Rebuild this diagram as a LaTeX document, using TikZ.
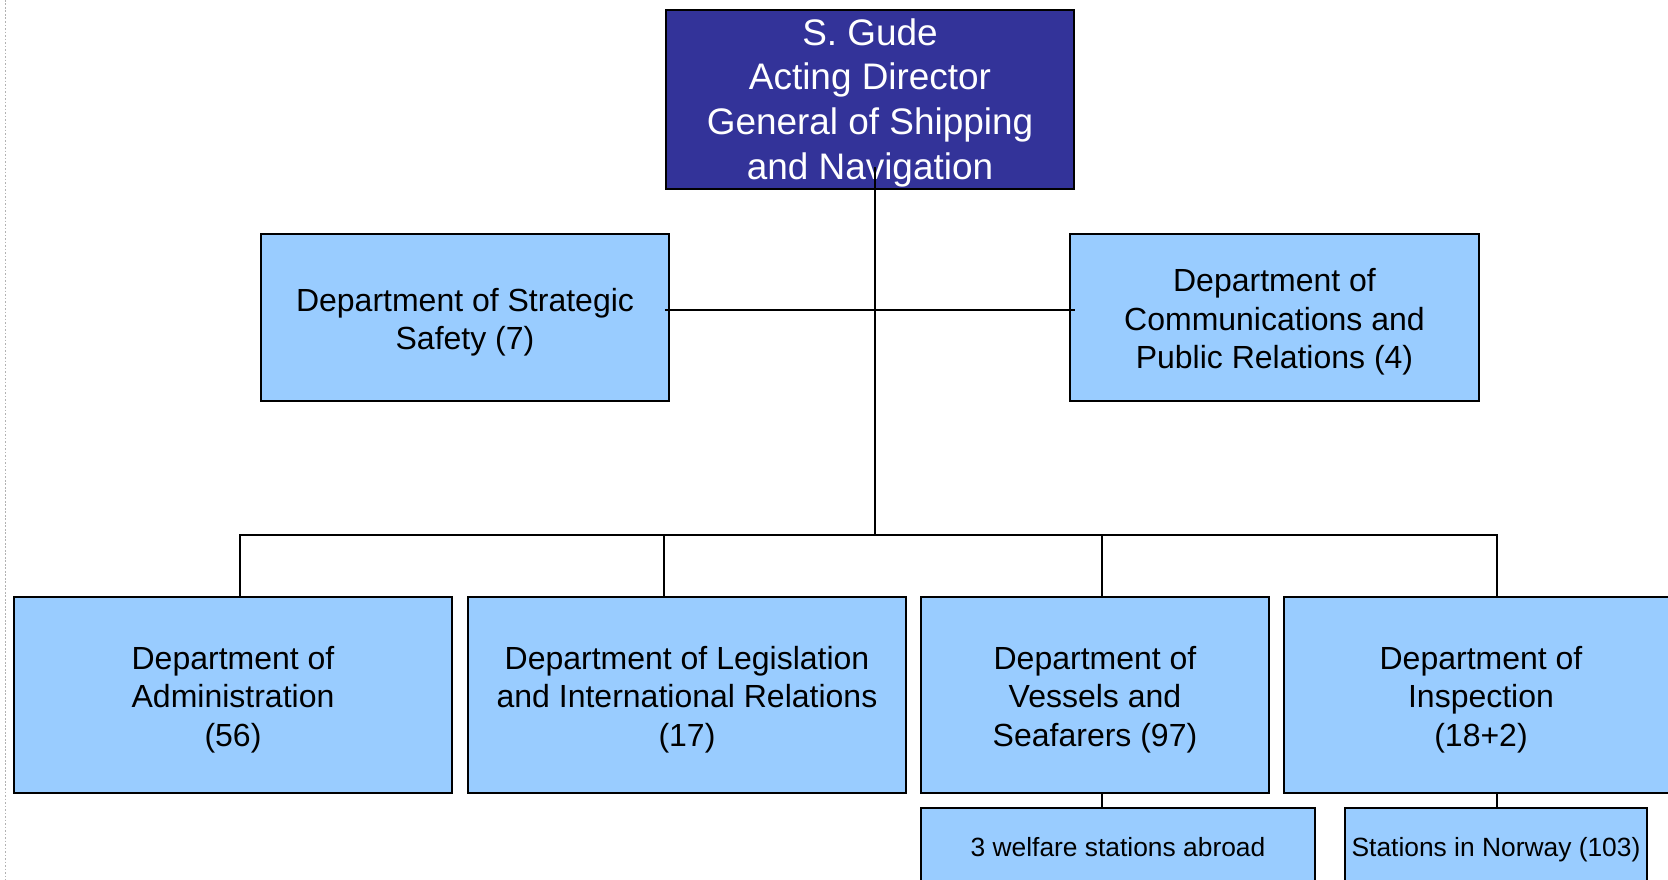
\documentclass[tikz,border=0pt]{standalone}
\usepackage{fontspec}
\setmainfont{Liberation Sans}
\definecolor{headblue}{RGB}{51,51,153}
\definecolor{deptblue}{RGB}{153,204,255}
% taller first line, so the text block sits a little lower in its box
\newcommand{\topstrut}[1][1em]{\rule{0pt}{#1}}
\tikzset{
  box/.style={draw=black, line width=0.02cm, rectangle, inner sep=0pt, align=center},
  boss/.style={box, fill=headblue, text=white, font=\fontsize{10.5}{12.7}\selectfont},
  dept/.style={box, fill=deptblue, font=\fontsize{9.1}{10.9}\selectfont},
  station/.style={box, fill=deptblue, font=\fontsize{7.5}{9}\selectfont, text depth=0pt},
  wire/.style={draw=black, line width=0.02cm}
}
\begin{document}
\begin{tikzpicture}[x=0.01cm, y=-0.01cm]
  \useasboundingbox (0,0) rectangle (1668,880);
  \fill[white] (0,0) rectangle (1668,880);
  % page edge on the left
  \draw[gray!60, line width=0.018cm, dash pattern=on 0.017cm off 0.018cm] (5.5,0) -- (5.5,880);

  % head of the directorate
  \node[boss, minimum width=4.08cm, minimum height=1.79cm] (gude) at (870,99.5)
    {\topstrut[0.9em]S. Gude\\Acting Director\\General of Shipping\\and Navigation};

  % staff departments
  \node[dept, minimum width=4.08cm, minimum height=1.67cm] (strategic) at (465,317.5)
    {\topstrut Department of Strategic\\Safety (7)};
  \node[dept, minimum width=4.09cm, minimum height=1.67cm] (comms) at (1274.5,317.5)
    {\topstrut Department of\\Communications and\\Public Relations (4)};

  % line departments
  \node[dept, minimum width=4.38cm, minimum height=1.96cm] (admin) at (233,695)
    {\topstrut Department of\\Administration\\(56)};
  \node[dept, minimum width=4.38cm, minimum height=1.96cm] (legis) at (687,695)
    {\topstrut Department of Legislation\\and International Relations\\(17)};
  \node[dept, minimum width=3.48cm, minimum height=1.96cm] (vessels) at (1095,695)
    {\topstrut Department of\\Vessels and\\Seafarers (97)};
  \node[dept, minimum width=3.94cm, minimum height=1.96cm] (inspect) at (1481,695)
    {\topstrut Department of\\Inspection\\(18+2)};

  % stations under the departments
  \node[station, minimum width=3.94cm, minimum height=0.78cm] (welfare) at (1118,847)
    {3 welfare stations abroad};
  \node[station, minimum width=3.02cm, minimum height=0.78cm] (stations) at (1496,847)
    {Stations in Norway (103)};

  % connectors
  \coordinate (stem) at (875,167);
  \coordinate (hub) at (875,535);
  \draw[wire] (stem) -- (hub);
  \draw[wire] (gude.west |- 0,310) -- (gude.east |- 0,310);
  \draw[wire] (admin.north -| 240,0) |- (hub) -| (inspect.north -| 1497,0);
  \draw[wire] (legis.north -| 664,0) |- (hub);
  \draw[wire] (vessels.north -| 1102,0) |- (hub);
  \draw[wire] (vessels.south -| 1102,0) -- (welfare.north -| 1102,0);
  \draw[wire] (inspect.south -| 1497,0) -- (stations.north -| 1497,0);
\end{tikzpicture}
\end{document}
